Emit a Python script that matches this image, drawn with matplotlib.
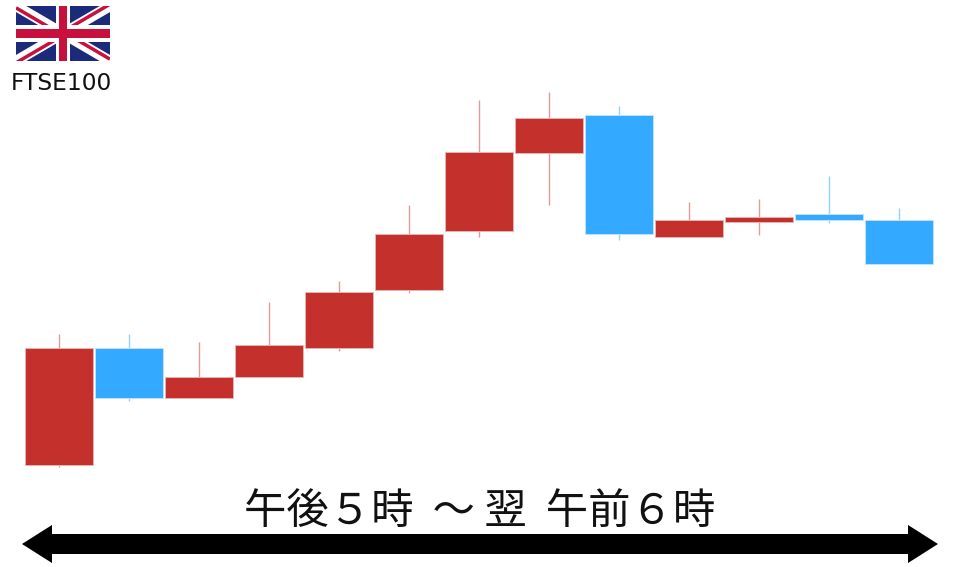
import matplotlib
matplotlib.use("Agg")
import matplotlib.pyplot as plt
from matplotlib.patches import Rectangle, Polygon

plt.rcParams['font.family'] = ['Noto Sans CJK JP', 'DejaVu Sans']

# Values on the chart's unlabelled price scale
opens  = [102, 219, 169, 190, 219, 277, 336, 414, 452, 330, 345, 353, 347]
closes = [219, 169, 190, 222, 275, 333, 415, 449, 333, 347, 350, 347, 303]
highs  = [233, 233, 225, 265, 286, 362, 467, 475, 461, 365, 368, 391, 359]
lows   = [100, 166, 169, 190, 216, 274, 330, 362, 327, 330, 332, 344, 303]
index_label = "FTSE100"
period_label = "午後５時  ～ 翌  午前６時"

UP = "#C4302B"
DOWN = "#33A9FF"
UP_WICK = "#E39A98"
DOWN_WICK = "#92D2FF"
UP_EDGE = "#E8B4B2"
DOWN_EDGE = "#BFE3FF"

fig = plt.figure(figsize=(9.6, 5.67), dpi=100, facecolor="white")
ax = fig.add_axes([0, 0, 1, 1])
ax.set_xlim(-59 / 70, (960 - 59) / 70)
ax.set_ylim(0, 567)
ax.axis("off")

for i, (o, c, h, l) in enumerate(zip(opens, closes, highs, lows)):
    rising = c >= o
    ax.vlines(i, l, h, color=UP_WICK if rising else DOWN_WICK, lw=1.0, zorder=1)
    ax.add_patch(Rectangle((i - 0.487, min(o, c)), 0.974, abs(c - o),
                           facecolor=UP if rising else DOWN,
                           edgecolor=UP_EDGE if rising else DOWN_EDGE,
                           lw=0.7, zorder=2))

# Double-headed period arrow
ax.add_patch(Polygon(
    [(-0.529, 23), (-0.10, 42), (-0.10, 33), (12.129, 33), (12.129, 42), (12.557, 23),
     (12.129, 4), (12.129, 13), (-0.10, 13), (-0.10, 4)],
    closed=True, facecolor="black", edgecolor="none", zorder=3))

ax.text(6.014, 55, period_label, ha="center", va="center", fontsize=30.5, color="#111111")
ax.text(-0.843 + 61 / 70, 484, index_label, ha="center", va="center", fontsize=16.8,
        family=['DejaVu Sans'], color="#111111")

# Union flag
fl = fig.add_axes([16 / 960, 1 - 61 / 567, 94 / 960, 55 / 567])
fl.set_xlim(0, 60)
fl.set_ylim(0, 30)
fl.axis("off")
NAVY, RED = "#1B2A7B", "#C8103E"
fl.add_patch(Rectangle((0, 0), 60, 30, facecolor=NAVY, edgecolor="none"))
fl.plot([0, 60], [0, 30], color="white", lw=7.5, solid_capstyle="butt")
fl.plot([0, 60], [30, 0], color="white", lw=7.5, solid_capstyle="butt")
# counterchanged red diagonals, one per quadrant
fl.plot([0, 30], [29, 14], color=RED, lw=2.5, solid_capstyle="butt")
fl.plot([60, 30], [31, 16], color=RED, lw=2.5, solid_capstyle="butt")
fl.plot([0, 30], [-1, 14], color=RED, lw=2.5, solid_capstyle="butt")
fl.plot([60, 30], [1, 16], color=RED, lw=2.5, solid_capstyle="butt")
fl.add_patch(Rectangle((25.3, 0), 9.4, 30, facecolor="white", edgecolor="none", zorder=3))
fl.add_patch(Rectangle((0, 10.4), 60, 9.2, facecolor="white", edgecolor="none", zorder=3))
fl.add_patch(Rectangle((27.4, 0), 5.2, 30, facecolor=RED, edgecolor="none", zorder=4))
fl.add_patch(Rectangle((0, 12.7), 60, 4.6, facecolor=RED, edgecolor="none", zorder=4))

fig.savefig("out.png", dpi=100, facecolor="white")
